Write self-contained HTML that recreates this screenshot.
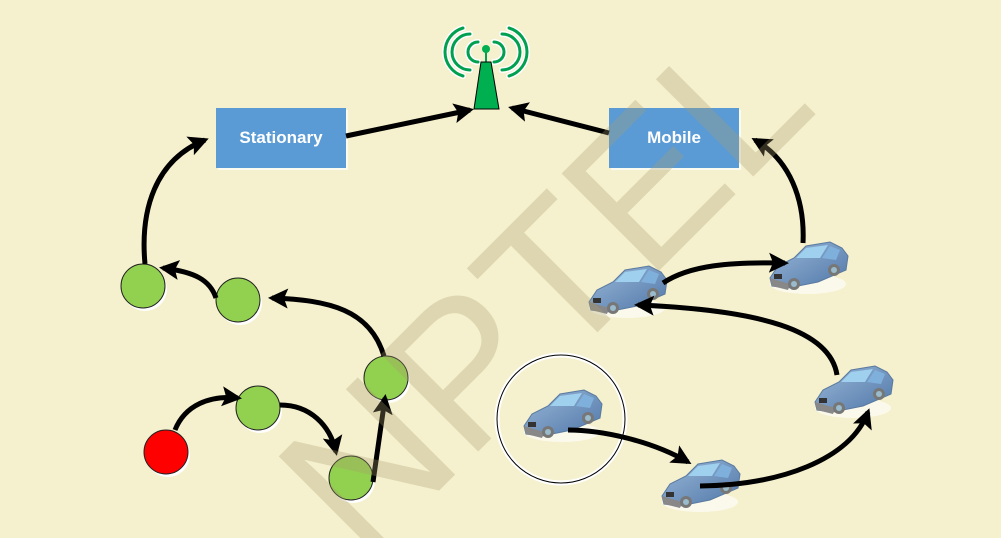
<!DOCTYPE html>
<html><head><meta charset="utf-8"><style>
html,body{margin:0;padding:0;background:#f5f0cd;width:1001px;height:538px;overflow:hidden;}
svg{display:block;overflow:hidden;}
</style></head><body>
<svg width="1001" height="538" viewBox="0 0 1001 538" xmlns="http://www.w3.org/2000/svg">
<defs>
<clipPath id="frame"><rect width="1001" height="538"/></clipPath>
<marker id="ah" viewBox="0 0 10 10" refX="8" refY="5" markerWidth="4" markerHeight="4" orient="auto" markerUnits="strokeWidth">
<path d="M0,0 L10,5 L0,10 L2,5 z" fill="#000"/>
</marker>
<linearGradient id="cb" x1="0" y1="0" x2="1" y2="1">
<stop offset="0" stop-color="#9bb8d8"/><stop offset="1" stop-color="#4f77a8"/>
</linearGradient>
<g id="car">
<ellipse cx="0" cy="16" rx="38" ry="10" fill="#fff" opacity="0.6"/>
<path d="M-38,10 L-30,-2 L-14,-10 L-2,-22 L22,-26 L34,-20 L40,-12 L38,2 L10,14 L-20,20 L-36,18 z" fill="url(#cb)" stroke="#5a7aa0" stroke-width="1"/>
<path d="M-12,-10 L-2,-20 L20,-23 L12,-10 z" fill="#9fd0ee"/>
<path d="M14,-10 L22,-22 L32,-18 L28,-8 z" fill="#7fb0dc"/>
<path d="M-38,10 L-36,18 L-20,22 L-18,16 z" fill="#888"/>
<circle cx="-14" cy="16" r="6" fill="#777"/><circle cx="-14" cy="16" r="3" fill="#9bc"/>
<circle cx="26" cy="2" r="6" fill="#777"/><circle cx="26" cy="2" r="3" fill="#9bc"/>
<rect x="-34" y="6" width="8" height="5" fill="#333"/>
</g>
</defs>
<rect width="1001" height="538" fill="#f5f0cd"/>

<rect x="218" y="110" width="130" height="60" fill="#fff" opacity="0.7"/>
<rect x="216" y="108" width="130" height="60" fill="#5b9bd5"/>
<text x="281" y="143" font-family="Liberation Sans, sans-serif" font-weight="bold" font-size="17" fill="#fff" text-anchor="middle">Stationary</text>
<rect x="611" y="110" width="130" height="60" fill="#fff" opacity="0.7"/>
<rect x="609" y="108" width="130" height="60" fill="#5b9bd5"/>
<text x="674" y="143" font-family="Liberation Sans, sans-serif" font-weight="bold" font-size="17" fill="#fff" text-anchor="middle">Mobile</text>

<g stroke-linecap="round" fill="none">
<g stroke="#fff" stroke-width="6">
<path d="M478,42 a10,10 0 0,0 0,20"/><path d="M494,42 a10,10 0 0,1 0,20"/>
<path d="M470,34 a18,18 0 0,0 0,36"/><path d="M502,34 a18,18 0 0,1 0,36"/>
<path d="M463,28 a25,25 0 0,0 0,48"/><path d="M509,28 a25,25 0 0,1 0,48"/>
</g>
<g stroke="#00a050" stroke-width="3">
<path d="M478,42 a10,10 0 0,0 0,20"/><path d="M494,42 a10,10 0 0,1 0,20"/>
<path d="M470,34 a18,18 0 0,0 0,36"/><path d="M502,34 a18,18 0 0,1 0,36"/>
<path d="M463,28 a25,25 0 0,0 0,48"/><path d="M509,28 a25,25 0 0,1 0,48"/>
</g>
</g>
<line x1="486" y1="50" x2="486" y2="62" stroke="#00a050" stroke-width="2"/>
<circle cx="486" cy="49" r="4" fill="#00b050"/>
<path d="M481,62 L491,62 L499,109 L474,109 z" fill="#00b050" stroke="#000" stroke-width="1"/>

<circle cx="561" cy="419" r="64" fill="none" stroke="#fff" stroke-width="5"/>
<circle cx="561" cy="419" r="64" fill="none" stroke="#000" stroke-width="1"/>

<g stroke="#222" stroke-width="1">
<circle cx="145" cy="289" r="22" fill="#fff" stroke="none"/><circle cx="143" cy="286" r="22" fill="#92d050"/>
<circle cx="240" cy="303" r="22" fill="#fff" stroke="none"/><circle cx="238" cy="300" r="22" fill="#92d050"/>
<circle cx="388" cy="381" r="22" fill="#fff" stroke="none"/><circle cx="386" cy="378" r="22" fill="#92d050"/>
<circle cx="260" cy="411" r="22" fill="#fff" stroke="none"/><circle cx="258" cy="408" r="22" fill="#92d050"/>
<circle cx="353" cy="481" r="22" fill="#fff" stroke="none"/><circle cx="351" cy="478" r="22" fill="#92d050"/>
<circle cx="168" cy="455" r="22" fill="#fff" stroke="none"/><circle cx="166" cy="452" r="22" fill="#f00"/>
</g>

<use href="#car" transform="translate(627,292)"/>
<use href="#car" transform="translate(808,268)"/>
<use href="#car" transform="translate(853,392)"/>
<use href="#car" transform="translate(562,416)"/>
<use href="#car" transform="translate(700,486)"/>

<g fill="none" stroke="#000" stroke-width="5" marker-end="url(#ah)">
<path d="M346,136 L470,110"/>
<path d="M609,133 L512,108"/>
<path d="M145,264 C140,210 155,160 205,140"/>
<path d="M803,243 C805,200 790,160 755,140"/>
<path d="M216,298 C210,280 195,272 163,268"/>
<path d="M384,356 C370,310 330,300 272,298"/>
<path d="M175,430 C185,405 210,395 238,398"/>
<path d="M280,405 C310,405 330,425 336,452"/>
<path d="M373,482 L385,398"/>
<path d="M663,283 C690,265 730,262 785,263"/>
<path d="M837,375 C830,330 760,310 638,305"/>
<path d="M568,430 C600,430 650,440 688,462"/>
<path d="M700,486 C780,485 850,460 868,412"/>
</g>

<g clip-path="url(#frame)">
<text transform="translate(555,300) rotate(-45)" font-family="Liberation Sans, sans-serif" font-size="200" fill="#a89a6e" fill-opacity="0.3" text-anchor="middle" dominant-baseline="middle">NPTEL</text>
</g>
</svg>
</body></html>
